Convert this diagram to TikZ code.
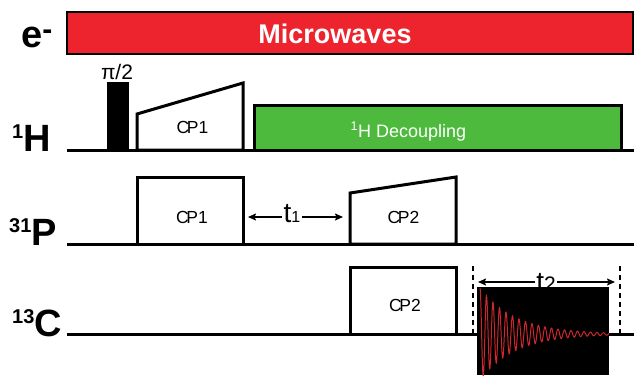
\documentclass[tikz,border=0pt]{standalone}
\usepackage{fontspec}
\setmainfont{Liberation Sans}
\usetikzlibrary{arrows.meta}
\definecolor{mwred}{RGB}{237,36,46}
\definecolor{decgreen}{RGB}{77,186,61}
\definecolor{fidred}{RGB}{205,38,44}
\begin{document}
\begin{tikzpicture}[x=1pt,y=-1pt,line join=miter,
  baseline/.style={line width=3pt},
  pulse/.style={draw=black,line width=3pt,fill=white},
  lab/.style={inner sep=0pt,anchor=base west,font=\bfseries\fontsize{38}{38}\selectfont},
  cplab/.style={inner sep=0pt,anchor=base,font=\fontsize{17.5}{17.5}\selectfont},
  tlab/.style={inner sep=1.5pt,anchor=base,fill=white,font=\fontsize{28}{28}\selectfont},
  tarrow/.style={line width=1.5pt,-{Stealth[length=8pt,width=7pt,inset=1.5pt]}},
  dashline/.style={line width=1.6pt,dash pattern=on 5pt off 4pt}
]
\useasboundingbox (0,0) rectangle (634,375);

% channel labels
\node[lab] (eL) at (21,47) {e\raisebox{8pt}{\fontsize{30}{30}\selectfont -}};
\node[lab] (hL) at (12,151) {\raisebox{13pt}{\fontsize{20}{20}\selectfont 1}H};
\node[lab] (pL) at (9,245) {\raisebox{13pt}{\fontsize{20}{20}\selectfont 31}P};
\node[lab] (cL) at (12,336) {\raisebox{13pt}{\fontsize{20}{20}\selectfont 13}C};

% microwaves
\draw[fill=mwred,line width=2pt] (67,12) rectangle (633,54);
\node[text=white,font=\bfseries\fontsize{27}{27}\selectfont,inner sep=0pt,anchor=base] (mw) at (335,43) {Microwaves};

% baselines
\draw[baseline] (67,150) -- (634,150);
\draw[baseline] (67,244) -- (634,244);
\draw[baseline] (67,334) -- (634,334);

% 1H channel
\draw[line width=2pt,fill=black] (108,83) rectangle (128,150);
\node[inner sep=0pt,anchor=base,font=\fontsize{21}{21}\selectfont] (pi2) at (117,79) {π/2};
\draw[pulse] (137,150) -- (137,114) -- (243,83) -- (243,150) -- cycle;
\node[cplab] (cp1h) at (192.5,133) {C\kern-2.5pt P1};
\draw[draw=black,line width=3pt,fill=decgreen] (254,105) rectangle (621,150);
\node[inner sep=0pt,anchor=base,text=white,font=\fontsize{18}{18}\selectfont] (dec) at (408.5,137) {\textsuperscript{1}H Decoupling};

% 31P channel
\draw[pulse] (137,244) rectangle (243,177);
\node[cplab] (cp1p) at (192,223) {C\kern-2.5pt P1};
\draw[pulse] (350,244) -- (350,193) -- (456,177) -- (456,244) -- cycle;
\node[cplab] (cp2p) at (403.5,223) {C\kern-2.5pt P2};

% t1
\node[tlab] (t1) at (292,222) {t\fontsize{16}{16}\selectfont 1};
\coordinate (t1l) at (248,217);
\coordinate (t1r) at (343,217);
\draw[tarrow] (t1.west|-t1l) -- (t1l);
\draw[tarrow] (t1.east|-t1r) -- (t1r);

% 13C channel
\draw[pulse] (350,334) rectangle (456,267);
\node[cplab] (cp2c) at (405,311) {C\kern-2.5pt P2};

\draw[dashline] (473,266) -- (473,334);
\draw[dashline] (620,266) -- (620,334);

\node[tlab] (t2) at (546,291) {t\fontsize{21}{21}\selectfont 2};
\coordinate (t2l) at (478,282);
\coordinate (t2r) at (615,282);
\draw[tarrow] (t2.west|-t2l) -- (t2l);
\draw[tarrow] (t2.east|-t2r) -- (t2r);

% FID
\fill[black] (477,287) rectangle (609,375);
\begin{scope}
\clip (477,287) rectangle (609,375);
\draw[fidred,line width=1pt] plot[domain=0:129,samples=700] ({480+\x},{334-46*exp(-\x/35)*cos(\x/6.5*360)});
\end{scope}
\end{tikzpicture}
\end{document}
